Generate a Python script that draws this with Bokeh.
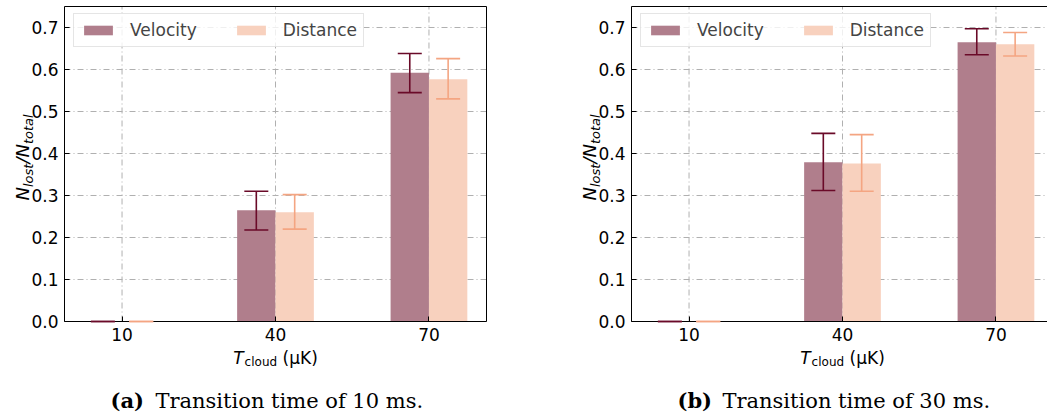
import math
from bokeh.plotting import figure
from bokeh.models import (ColumnDataSource, FixedTicker, Label, Whisker, TeeHead,
                          Range1d, NumeralTickFormatter, LinearAxis)
from bokeh.layouts import row
from bokeh.embed import file_html
from bokeh.resources import INLINE

# ---------------- data ----------------
temps = ["10", "40", "70"]
series = ["Velocity", "Distance"]
y_ticks = [0.0, 0.1, 0.2, 0.3, 0.4, 0.5, 0.6, 0.7]

# panel (a): transition time 10 ms
vel_a = [0.0, 0.265, 0.592]
vel_a_lo = [0.0, 0.218, 0.545]
vel_a_hi = [0.0, 0.310, 0.638]
dist_a = [0.0, 0.260, 0.577]
dist_a_lo = [0.0, 0.220, 0.530]
dist_a_hi = [0.0, 0.302, 0.626]

# panel (b): transition time 30 ms
vel_b = [0.0, 0.379, 0.665]
vel_b_lo = [0.0, 0.312, 0.635]
vel_b_hi = [0.0, 0.448, 0.697]
dist_b = [0.0, 0.376, 0.660]
dist_b_lo = [0.0, 0.310, 0.632]
dist_b_hi = [0.0, 0.445, 0.688]

captions = [("(a)", "Transition time of 10 ms."), ("(b)", "Transition time of 30 ms.")]

# ---------------- style / layout ----------------
VEL_FILL = "#b07e8c"
VEL_ERR = "#6a0a28"
DIST_FILL = "#f8d1be"
DIST_ERR = "#f4a582"
GRID = "#b0b0b0"
SANS = "DejaVu Sans"
SERIF = "DejaVu Serif"
BAR_W = 0.25
X0, X1 = -0.375, 2.375          # plot-area x extent (category units)
Y0, Y1 = 0.0, 0.75              # plot-area y extent
H = 414
AREA_TOP, AREA_BOTTOM = 6, 321  # pixel rows of the plot area
SX = 422 / (X1 - X0)            # px per category unit
SY = (AREA_BOTTOM - AREA_TOP) / (Y1 - Y0)

DV = {"N": .748, "l": .278, "o": .612, "s": .521, "t": .392, "a": .613, "/": .337,
      "T": .611, "c": .550, "u": .634, "d": .635, " ": .318, "(": .390, ")": .390,
      "μ": .636, "K": .656}


def text_w(s, size):
    return sum(DV.get(ch, 0.6) for ch in s) * size


def rich(p, pieces, x, y, x_off, y_off, vertical):
    pos = 0.0
    for txt, size, style, drop, gap in pieces:
        pos += gap
        kw = dict(x=x, y=y, text=txt, text_font=SANS, text_font_size=f"{size}px",
                  text_font_style=style, text_color="black",
                  text_align="left", text_baseline="alphabetic")
        if vertical:
            lab = Label(x_offset=x_off + drop, y_offset=y_off + pos, angle=math.pi / 2, **kw)
        else:
            lab = Label(x_offset=x_off + pos, y_offset=y_off - drop, **kw)
        p.add_layout(lab)
        pos += text_w(txt, size)


def style_axis(ax, ticks, labels=True):
    ax.ticker = FixedTicker(ticks=ticks)
    ax.major_label_text_font = SANS
    ax.major_label_text_font_size = "17px" if labels else "0px"
    ax.major_label_text_color = "black"
    ax.major_tick_in = 5 if labels else 0
    ax.major_tick_out = 0
    ax.minor_tick_in = 0
    ax.minor_tick_out = 0
    ax.major_label_standoff = 6
    ax.axis_line_color = "black"
    ax.axis_line_width = 1
    ax.major_tick_line_color = "black"


def make_panel(vel, vlo, vhi, dist, dlo, dhi, caption, width, area_left):
    x_start = X0 - area_left / SX
    x_end = x_start + width / SX
    y_start = Y0 - (H - AREA_BOTTOM) / SY
    y_end = Y1 + AREA_TOP / SY
    p = figure(width=width, height=H, x_range=Range1d(x_start, x_end),
               y_range=Range1d(y_start, y_end), output_backend="svg", toolbar_location=None,
               x_axis_location=None, y_axis_location=None,
               min_border=0, min_border_left=0, min_border_right=0,
               min_border_top=0, min_border_bottom=0)
    p.outline_line_color = None
    for g in p.grid:
        g.visible = False

    xs = list(range(len(temps)))
    xv = [i - BAR_W / 2 for i in xs]
    xd = [i + BAR_W / 2 for i in xs]

    # grid (dash-dot) limited to the plot area
    p.segment(x0=xs, x1=xs, y0=[Y0] * len(xs), y1=[Y1] * len(xs),
              line_color=GRID, line_dash="6 3 1 3", line_width=1)
    p.segment(x0=[X0] * len(y_ticks), x1=[X1] * len(y_ticks), y0=y_ticks, y1=y_ticks,
              line_color=GRID, line_dash="6 3 1 3", line_width=1)

    p.vbar(x=xv, top=vel, width=BAR_W, fill_color=VEL_FILL, line_color=None, legend_label=series[0])
    p.vbar(x=xd, top=dist, width=BAR_W, fill_color=DIST_FILL, line_color=None, legend_label=series[1])

    for xx, lo, hi, col in ((xv, vlo, vhi, VEL_ERR), (xd, dlo, dhi, DIST_ERR)):
        src = ColumnDataSource(dict(x=xx, lower=lo, upper=hi))
        w = Whisker(source=src, base="x", lower="lower", upper="upper", dimension="height",
                    line_color=col, line_width=1.6, level="overlay",
                    lower_head=TeeHead(size=24, line_color=col, line_width=1.6),
                    upper_head=TeeHead(size=24, line_color=col, line_width=1.6))
        p.add_layout(w)

    # axes drawn at the plot-area edges
    xb = LinearAxis(fixed_location=Y0, bounds=(X0, X1))
    style_axis(xb, xs)
    xb.major_label_overrides = {i: t for i, t in enumerate(temps)}
    p.add_layout(xb, "below")
    yl = LinearAxis(fixed_location=X0, bounds=(Y0, Y1))
    style_axis(yl, y_ticks)
    yl.formatter = NumeralTickFormatter(format="0.0")
    p.add_layout(yl, "left")
    xt = LinearAxis(fixed_location=Y1, bounds=(X0, X1))
    style_axis(xt, [], labels=False)
    p.add_layout(xt, "above")
    if x_end >= X1:
        yr = LinearAxis(fixed_location=X1, bounds=(Y0, Y1))
        style_axis(yr, [], labels=False)
        p.add_layout(yr, "right")

    # legend
    lg = p.legend[0]
    lg.orientation = "horizontal"
    lg.location = (area_left + 9, H - (AREA_TOP + 9 + 32))
    lg.margin = 0
    lg.padding = 6
    lg.spacing = 36
    lg.glyph_width = 36
    lg.glyph_height = 12
    lg.label_standoff = 14
    lg.label_text_font = SANS
    lg.label_text_font_size = "17px"
    lg.border_line_color = "#cccccc"
    lg.border_line_width = 1
    lg.background_fill_alpha = 0.8

    # y axis label  N_lost / N_total
    rich(p, [("N", 18, "italic", 0, 0), ("lost", 13, "italic", 6, 0),
             ("/N", 18, "italic", 0, 0), ("total", 13, "italic", 6, 0)],
         X0, Y0, -42, 121, True)
    # x axis label  T_cloud (μK)
    pieces = [("T", 17, "italic", 0, 0), ("cloud", 12, "normal", 4, 1),
              ("(μK)", 17, "normal", 0, text_w(" ", 17))]
    tot = sum(text_w(t, s) + g for t, s, _, _, g in pieces)
    rich(p, pieces, (X0 + X1) / 2, Y0, -tot / 2, -36, False)

    # caption
    p.add_layout(Label(x=X0, y=Y0, x_offset=46, y_offset=-79, text=caption[0],
                       text_font=SERIF, text_font_size="21px", text_font_style="bold",
                       text_color="black", text_align="left", text_baseline="alphabetic"))
    p.add_layout(Label(x=X0, y=Y0, x_offset=91, y_offset=-79, text=caption[1],
                       text_font=SERIF, text_font_size="21px", text_font_style="normal",
                       text_color="black", text_align="left", text_baseline="alphabetic"))
    return p


pa = make_panel(vel_a, vel_a_lo, vel_a_hi, dist_a, dist_a_lo, dist_a_hi, captions[0], 520, 64)
pb = make_panel(vel_b, vel_b_lo, vel_b_hi, dist_b, dist_b_lo, dist_b_hi, captions[1], 527, 111)

layout = row(pa, pb)
open("out.html", "w").write(file_html(layout, INLINE))
